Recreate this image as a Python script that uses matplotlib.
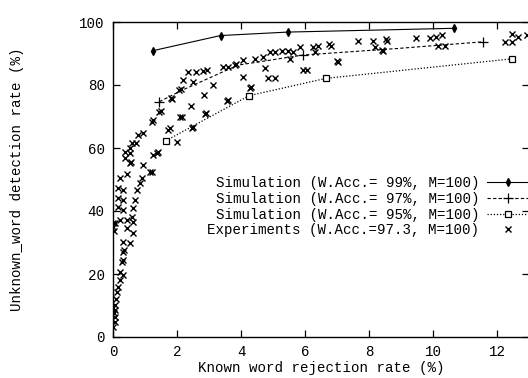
import numpy as np
import matplotlib
matplotlib.use('Agg')
import matplotlib.pyplot as plt

# simulation curves
sim99_x = [1.25, 3.36, 5.46, 10.66]
sim99_y = [90.9, 95.7, 96.8, 98.0]

sim97_x = [1.45, 2.15, 3.9, 5.93, 8.9, 11.55]
sim97_y = [74.7, 78.3, 86.3, 89.5, 91.6, 93.7]

sim95_x = [1.65, 4.25, 6.65, 12.46]
sim95_y = [62.3, 76.6, 82.1, 88.3]

# experiments
exp_x = [1.21, 1.25, 1.45, 1.49, 1.80, 1.84, 2.07, 2.11, 2.20, 2.35, 2.50, 2.60,
         2.82, 2.93, 3.43, 3.60, 3.81, 3.85, 4.05, 4.44, 4.68, 4.90, 5.06, 5.27,
         5.48, 5.63, 5.84, 6.26, 6.42, 6.76, 6.80, 7.67, 8.13, 8.53, 8.57, 9.47,
         9.90, 10.10, 10.27, 10.17, 10.38, 12.25, 12.46, 12.46, 12.67, 12.93,
         1.78, 2.15, 2.43, 2.84, 3.13, 2.88, 2.92, 2.46, 2.50, 3.55, 3.59, 4.05,
         4.28, 4.32, 4.75, 4.85, 5.06, 5.53, 5.95, 6.07, 6.31, 7.00, 7.04, 8.19,
         8.40, 8.44,
         0.95, 0.79, 0.72, 0.58, 0.53, 0.38, 0.53, 0.38, 0.53, 0.56, 0.43, 0.22,
         0.17, 0.32, 0.17, 0.32, 0.17, 0.32, 0.22, 0.06, 0.01,
         1.73, 2.10, 2.00, 1.36, 1.40, 1.21, 1.25, 1.16, 0.93, 0.90, 0.84, 0.76,
         0.69, 0.64, 0.58, 0.43,
         0.64, 0.43, 0.64, 0.32, 0.53, 0.30, 0.33, 0.27, 0.30, 0.22, 0.30, 0.22,
         0.17, 0.11, 0.06, 0.06, 0.06, 0.06, 0.01, 0.01, 0.01, 0.04, 0.08, 0.04]
exp_y = [68.4, 68.8, 71.5, 71.9, 75.8, 75.4, 78.4, 78.8, 81.6, 84.2, 81.1, 84.0,
         84.4, 84.8, 85.8, 85.8, 86.3, 86.7, 87.9, 88.3, 89.0, 90.6, 90.5, 90.7,
         90.8, 90.6, 92.2, 92.0, 92.5, 92.9, 92.5, 94.0, 94.0, 94.5, 94.1, 95.0,
         95.0, 95.1, 95.9, 92.5, 92.5, 93.6, 93.6, 96.1, 95.1, 95.8,
         66.2, 70.0, 73.4, 76.9, 80.0, 70.7, 71.1, 66.2, 66.6, 74.9, 75.3, 82.6,
         78.9, 79.3, 85.5, 82.3, 82.3, 88.3, 84.8, 84.8, 90.4, 87.6, 87.2, 92.2,
         91.1, 90.7,
         64.7, 64.1, 61.5, 61.5, 59.9, 58.8, 58.3, 56.7, 55.1, 55.5, 51.9, 50.4,
         47.2, 46.7, 44.0, 43.5, 41.4, 40.3, 37.1, 36.1, 35.0,
         65.7, 70.0, 62.0, 58.3, 58.7, 52.5, 57.8, 52.5, 54.6, 50.4, 48.8, 46.7,
         43.5, 40.8, 38.2, 37.1,
         36.6, 34.5, 32.9, 30.3, 29.7, 27.1, 27.5, 23.9, 24.3, 20.7, 19.7, 18.1,
         16.0, 14.4, 10.2, 8.6, 6.4, 4.9, 3.3, 9.2, 36.2, 33.5, 12.0, 7.5]

xticks = [0, 2, 4, 6, 8, 10, 12]
yticks = [0, 20, 40, 60, 80, 100]

labels = ['Simulation (W.Acc.= 99%, M=100)',
          'Simulation (W.Acc.= 97%, M=100)',
          'Simulation (W.Acc.= 95%, M=100)',
          'Experiments (W.Acc.=97.3, M=100)']

plt.rcParams['font.family'] = ['Liberation Mono', 'DejaVu Sans Mono']
plt.rcParams['font.size'] = 10.2

fig = plt.figure(figsize=(5.28, 3.78), dpi=100)
ax = fig.add_axes([113/528, 41/378, 416/528, 315/378])

ax.plot(sim99_x, sim99_y, '-', color='black', lw=0.8, marker='d', ms=4,
        label=labels[0])
ax.plot(sim97_x, sim97_y, color='black', lw=0.8, ls=(0, (3, 2)), marker='+',
        ms=7, mew=0.9, label=labels[1], markevery=[0, 3, 5])
ax.plot(sim95_x, sim95_y, color='black', lw=0.9, ls=(0, (1, 1.5)), marker='s',
        ms=4, mfc='white', mew=0.9, label=labels[2])
ax.plot(exp_x, exp_y, 'x', color='black', ms=5, mew=1.0, label=labels[3])

ax.set_xlim(0, 13)
ax.set_ylim(0, 100)
ax.set_xticks(xticks)
ax.set_yticks(yticks)
ax.tick_params(direction='in', length=5, width=0.9, top=True, right=True,
               pad=6, labelsize=10.2)
for s in ax.spines.values():
    s.set_linewidth(1.0)

ax.set_xlabel('Known word rejection rate (%)', labelpad=1)
ax.set_ylabel('Unknown_word detection rate (%)', labelpad=40)

ax.legend(loc='center right', bbox_to_anchor=(1.0, 0.413), frameon=False,
          markerfirst=False, handlelength=3.0, handletextpad=0.5,
          labelspacing=0.12, borderpad=0, borderaxespad=0)

fig.savefig('out.png', dpi=100)
